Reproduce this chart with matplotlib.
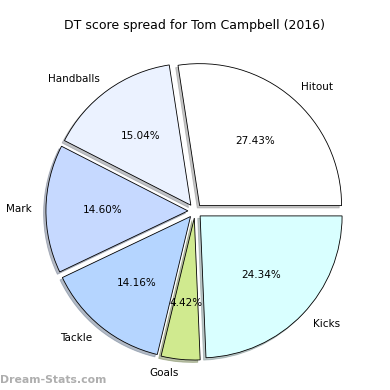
import matplotlib
matplotlib.use("Agg")
import matplotlib.pyplot as plt

# DT score spread
labels = ["Hitout", "Handballs", "Mark", "Tackle", "Goals", "Kicks"]
values = [27.43, 15.04, 14.60, 14.16, 4.42, 24.34]
colors = ["#ffffff", "#ebf2ff", "#c6d9ff", "#b5d5ff", "#d0ea8f", "#d9ffff"]
explode = [0.05] * len(values)

fig = plt.figure(figsize=(3.9, 3.9), dpi=100)
ax = fig.add_axes([0.045, 0.004, 0.91, 0.91])

wedges, texts, autotexts = ax.pie(values, labels=labels, colors=colors,
                                  explode=explode, autopct="%.2f%%",
                                  shadow={"ox": -0.012, "oy": -0.012, "shade": 0.45},
                                  startangle=0,
                                  wedgeprops={"edgecolor": "black", "linewidth": 0.6},
                                  textprops={"fontsize": 7.5})
ax.set_aspect("equal")

fig.text(0.5, 0.935, "DT score spread for Tom Campbell (2016)",
         ha="center", va="center", fontsize=9)
fig.text(0.0, 0.025, "Dream-Stats.com", ha="left", va="center",
         fontsize=7.8, color="#9a9a9a", fontweight="bold", alpha=0.8)

fig.savefig("out.png", dpi=100)
